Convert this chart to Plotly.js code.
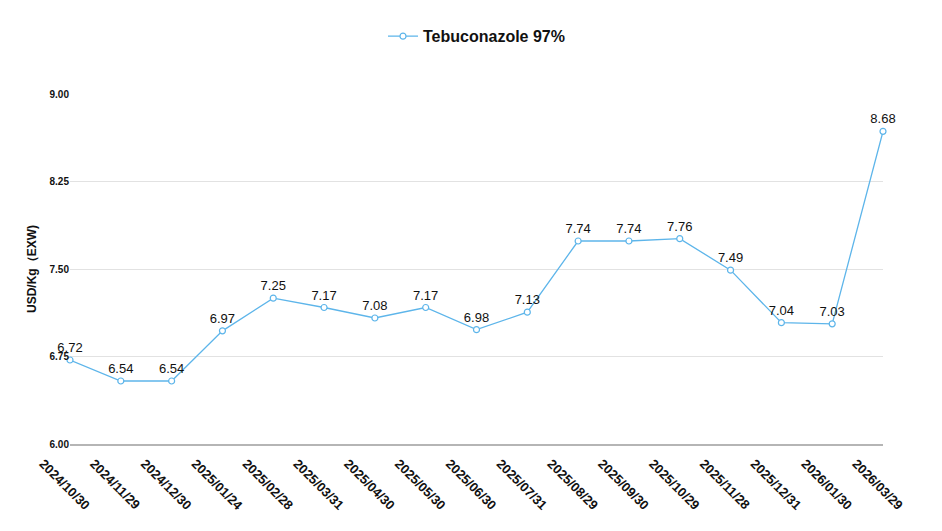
<!DOCTYPE html>
<html>
<head>
<meta charset="utf-8">
<script src="https://cdn.plot.ly/plotly-3.0.1.min.js"></script>
<style>html,body{margin:0;padding:0;background:#fff;}#chart{width:942px;height:531px;}</style>
</head>
<body>
<div id="chart"></div>
<script>
const dates = ["2024/10/30","2024/11/29","2024/12/30","2025/01/24","2025/02/28","2025/03/31","2025/04/30","2025/05/30","2025/06/30","2025/07/31","2025/08/29","2025/09/30","2025/10/29","2025/11/28","2025/12/31","2026/01/30","2026/03/29"];
const prices = [6.72,6.54,6.54,6.97,7.25,7.17,7.08,7.17,6.98,7.13,7.74,7.74,7.76,7.49,7.04,7.03,8.68];
const seriesName = "Tebuconazole 97%";
const yTicks = [6.00,6.75,7.50,8.25,9.00];

const trace = {
  x: dates,
  y: prices,
  type: "scatter",
  mode: "lines+markers+text",
  name: seriesName,
  text: prices.map(v => v.toFixed(2)),
  textposition: "top center",
  textfont: {family: "Liberation Sans, Arial, sans-serif", size: 13, color: "#111"},
  cliponaxis: false,
  line: {color: "#5DB5EA", width: 1.3},
  marker: {symbol: "circle", size: 6, color: "#fff", line: {color: "#5DB5EA", width: 1.2}}
};

const layout = {
  width: 942, height: 531,
  margin: {l: 70, r: 59, t: 94, b: 87},
  paper_bgcolor: "#fff", plot_bgcolor: "#fff",
  showlegend: true,
  legend: {orientation: "h", x: 0.5, xanchor: "center", y: 1.165, yanchor: "middle", itemwidth: 30,
           font: {family: "Liberation Sans, Arial, sans-serif", size: 16, color: "#111", weight: "bold"}},
  xaxis: {
    type: "category",
    range: [0, dates.length - 1],
    tickangle: 45,
    ticklabelshift: -27,
    ticklabelstandoff: 5,
    tickfont: {family: "Liberation Sans, Arial, sans-serif", size: 13, color: "#111", weight: "bold"},
    showgrid: false,
    showline: true, linecolor: "#b5b5b5", linewidth: 2,
    ticks: "", zeroline: false
  },
  yaxis: {
    range: [6, 9],
    tickvals: yTicks,
    ticktext: yTicks.map(v => v.toFixed(2)),
    tickfont: {family: "Liberation Sans, Arial, sans-serif", size: 10, color: "#111", weight: "bold"},
    showgrid: true, gridcolor: "#e2e2e2", gridwidth: 1,
    zeroline: false, showline: false, ticks: "",
    title: {text: "USD/Kg（EXW)", font: {family: "Liberation Sans, Arial, sans-serif", size: 12, color: "#111", weight: "bold"}, standoff: 10}
  }
};

Plotly.newPlot("chart", [trace], layout, {displayModeBar: false, staticPlot: true});
</script>
</body>
</html>
